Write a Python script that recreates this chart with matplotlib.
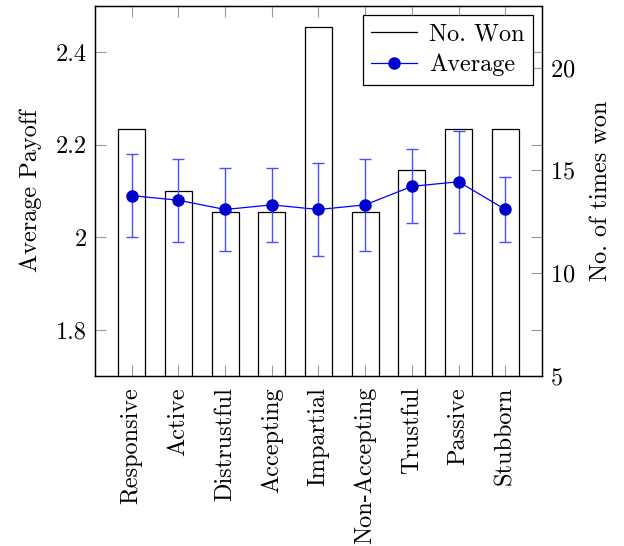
import matplotlib
matplotlib.use("Agg")
import matplotlib.pyplot as plt
from matplotlib.lines import Line2D
import numpy as np

plt.rcParams['font.family'] = 'serif'
plt.rcParams['font.serif'] = ['cmr10', 'DejaVu Serif']
plt.rcParams['axes.formatter.use_mathtext'] = True
plt.rcParams['font.size'] = 17.5

categories = ["Responsive", "Active", "Distrustful", "Accepting", "Impartial",
              "Non-Accepting", "Trustful", "Passive", "Stubborn"]
times_won = [17, 14, 13, 13, 22, 13, 15, 17, 17]
avg_payoff = [2.09, 2.08, 2.06, 2.07, 2.06, 2.07, 2.11, 2.12, 2.06]
payoff_err = [0.09, 0.09, 0.09, 0.08, 0.10, 0.10, 0.08, 0.11, 0.07]

left_ticks = [1.8, 2.0, 2.2, 2.4]
left_ticklabels = ["1.8", "2", "2.2", "2.4"]
right_ticks = [5, 10, 15, 20]

fig = plt.figure(figsize=(6.24, 5.46), dpi=100)
ax = fig.add_axes([0.1522, 0.3114, 0.7164, 0.6776])
ax2 = ax.twinx()

x = np.arange(len(categories))

# Bars on the right axis, drawn underneath
ax2.bar(x, times_won, width=0.58, bottom=0, facecolor='white',
        edgecolor='black', linewidth=0.9)
ax2.set_ylim(5, 23)
ax2.set_yticks(right_ticks)
ax2.set_ylabel("No. of times won", labelpad=10)
ax2.tick_params(axis='y', direction='in', length=8, width=0.8,
                color='#999999', pad=6)

# Average payoff with error bars on the left axis, on top
ax.set_zorder(ax2.get_zorder() + 1)
ax.patch.set_visible(False)
ax.errorbar(x, avg_payoff, yerr=payoff_err, fmt='none', ecolor='#4d4dff',
            elinewidth=1.0, capsize=4, capthick=1.0)
ax.plot(x, avg_payoff, color='#0000ff', linewidth=0.9, marker='o',
        markersize=8, markerfacecolor='#0000cc', markeredgecolor='#0000cc')

ax.set_xlim(-0.786, 8.786)
ax.set_ylim(1.7, 2.5)
ax.set_yticks(left_ticks)
ax.set_yticklabels(left_ticklabels)
ax.set_ylabel("Average Payoff", labelpad=10)
ax.set_xticks(x)
ax.set_xticklabels(categories, rotation=90)
ax.tick_params(axis='y', direction='in', length=8, width=0.8,
               color='#999999', right=True, pad=6)
ax.tick_params(axis='x', direction='in', length=8, width=0.8,
               color='#999999', top=True, pad=8)
ax2.tick_params(axis='x', top=False, bottom=False)

for a in (ax, ax2):
    for s in a.spines.values():
        s.set_linewidth(0.9)
        s.set_color('black')

handles = [Line2D([], [], color='black', linewidth=0.9),
           Line2D([], [], color='#0000ff', linewidth=0.9, marker='o',
                  markersize=8, markerfacecolor='#0000cc',
                  markeredgecolor='#0000cc')]
leg = ax.legend(handles, ["No. Won", "Average"], loc='upper right',
                fancybox=False, framealpha=1, edgecolor='black',
                borderaxespad=0.35, handlelength=1.9, borderpad=0.35,
                labelspacing=0.35, handletextpad=0.5)
leg.get_frame().set_linewidth(0.9)

fig.savefig("out.png", dpi=100)
